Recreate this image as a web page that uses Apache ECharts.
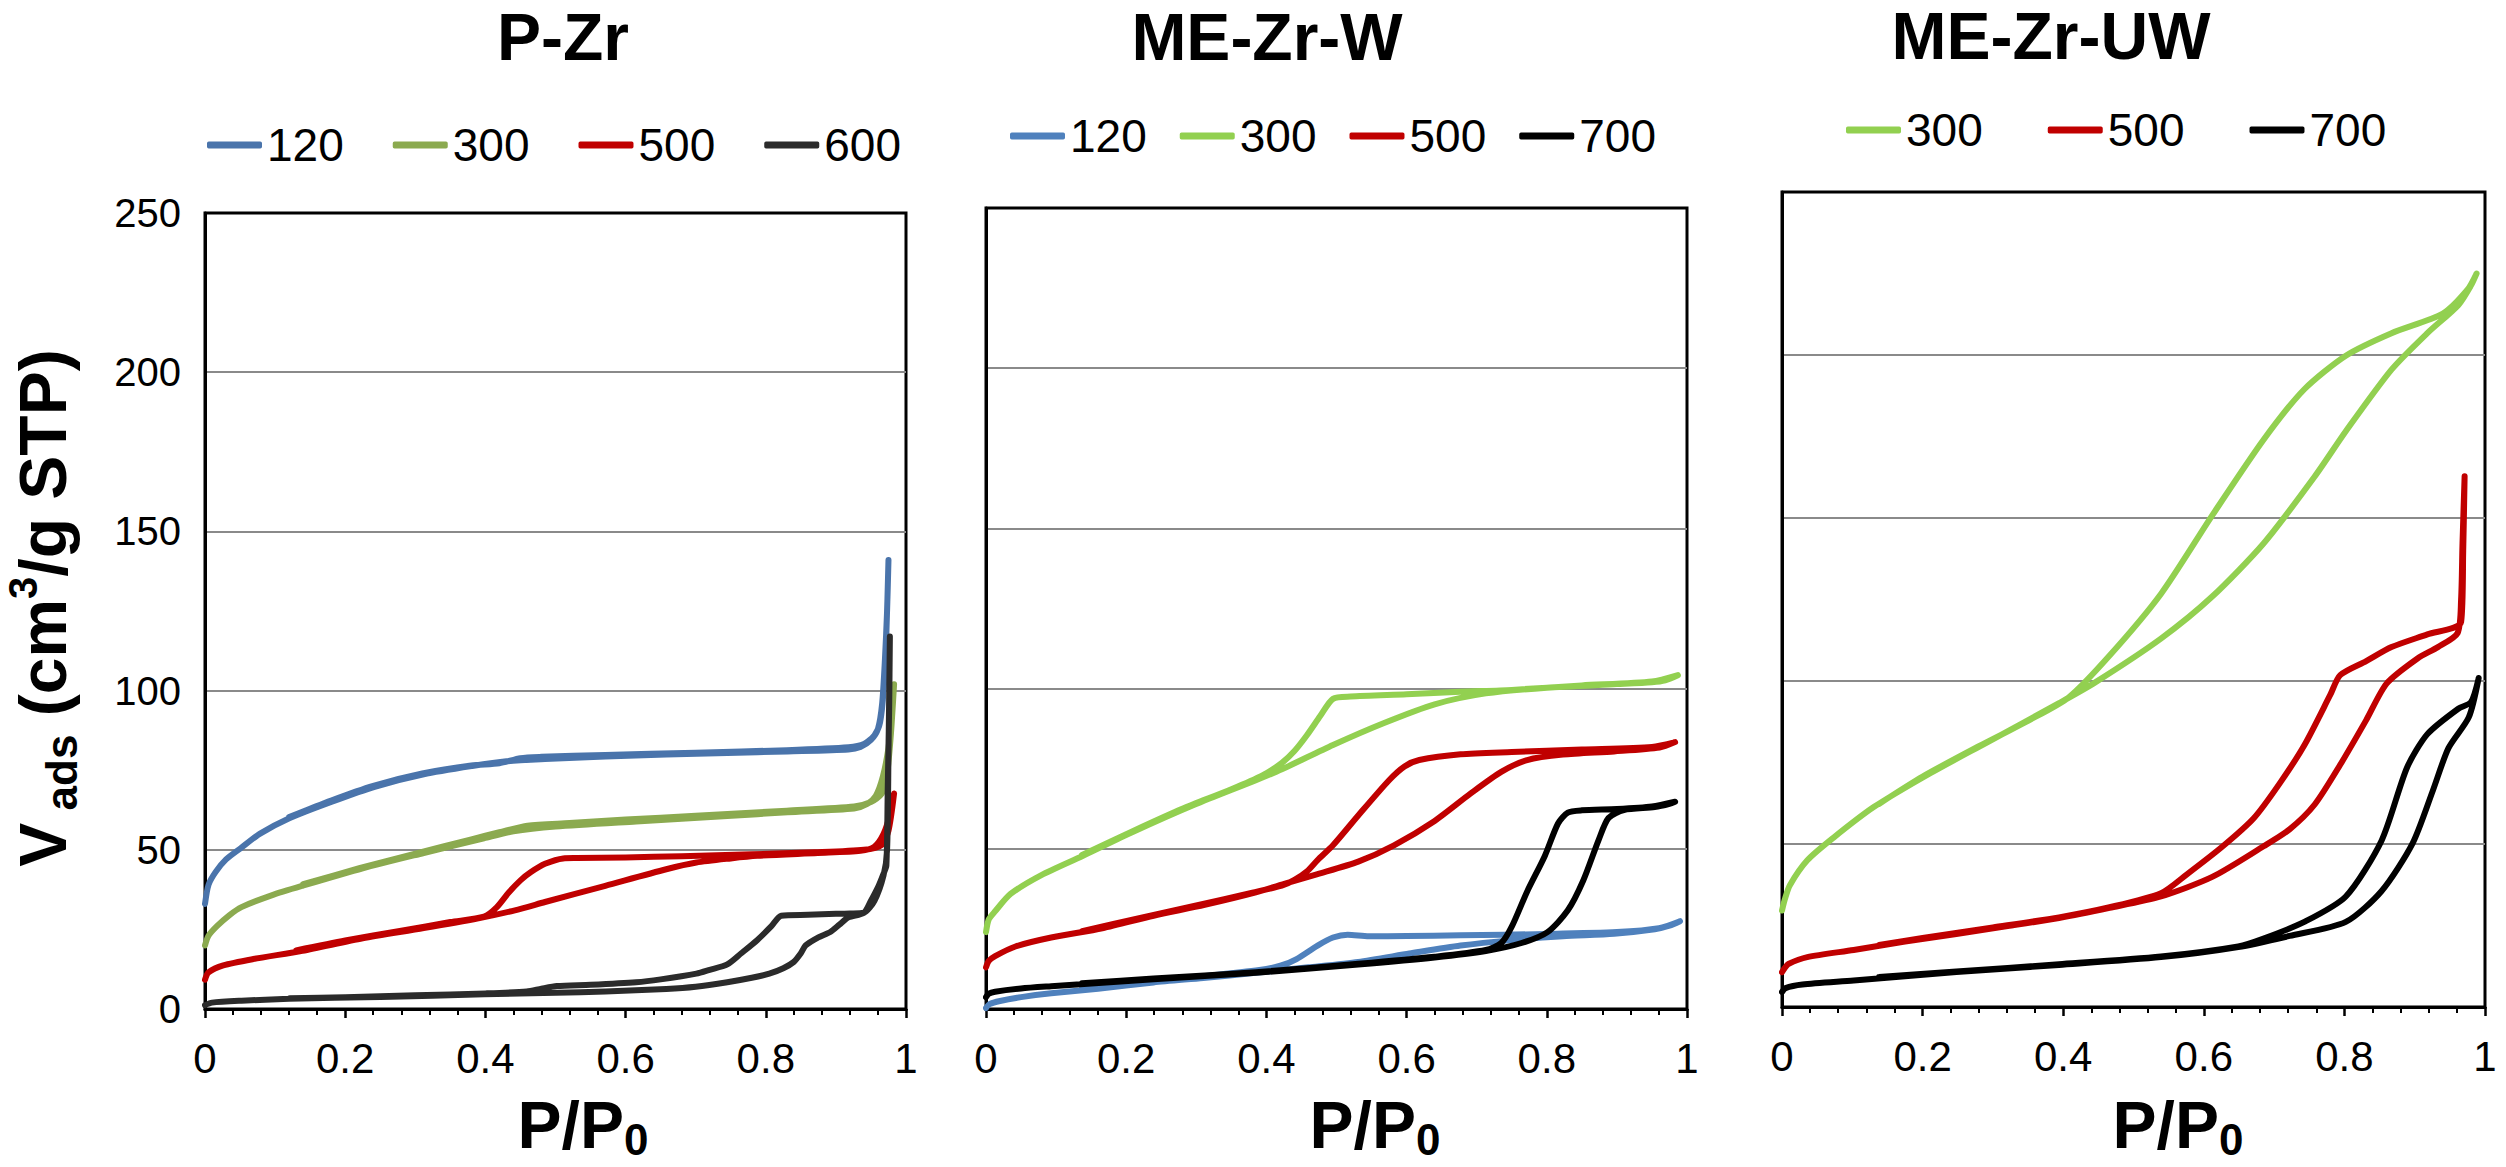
<!DOCTYPE html>
<html><head><meta charset="utf-8">
<script src="https://cdn.jsdelivr.net/npm/echarts@6/dist/echarts.min.js"></script>
<style>html,body{margin:0;padding:0;background:#fff}#c{width:2506px;height:1167px}</style>
</head><body><div id="c"></div>
<script>
// ---------- DATA ----------
const panelTitles = ['P-Zr', 'ME-Zr-W', 'ME-Zr-UW'];
const xTickLabels = ['0', '0.2', '0.4', '0.6', '0.8', '1'];
const yTickLabels = ['0', '50', '100', '150', '200', '250'];
const legendNames = [['120', '300', '500', '600'], ['120', '300', '500', '700'], ['300', '500', '700']];

// P-Zr (adsorption branch followed by desorption branch)
const pzr120 = [[0,33],[0.005,39],[0.015,43],[0.03,47],[0.052,50.7],[0.078,55],[0.121,60],[0.182,65.2],[0.242,69.8],[0.312,73.7],[0.381,76.3],[0.43,77.8],[0.485,78.5],[0.571,79.3],[0.658,79.9],[0.745,80.4],[0.831,80.9],[0.918,81.5],[0.935,82.3],[0.95,84.5],[0.96,88],[0.966,96],[0.97,110],[0.973,125],[0.975,141],
  [0.972,118],[0.968,100],[0.963,90],[0.955,86],[0.94,83.2],[0.918,82.2],[0.83,81.3],[0.7,80.5],[0.571,79.8],[0.48,79.2],[0.45,78.8],[0.42,77.2],[0.38,76.5],[0.31,74],[0.24,70.1],[0.18,65.5],[0.12,60.3]];
const pzr300 = [[0,20],[0.005,23],[0.017,26],[0.035,29.5],[0.052,32],[0.095,35.7],[0.139,38.7],[0.225,44.2],[0.312,49],[0.398,53.6],[0.44,55.8],[0.5,57.3],[0.615,58.9],[0.745,60.6],[0.831,61.8],[0.926,63],[0.944,64.3],[0.957,67],[0.967,73],[0.975,82],[0.98,92],[0.983,102],
  [0.978,85],[0.972,72],[0.965,67.5],[0.95,65],[0.926,63.6],[0.83,62.3],[0.7,60.7],[0.6,59.5],[0.52,58.4],[0.46,57.6],[0.42,55.5],[0.38,53.3],[0.3,48.8],[0.22,44.2],[0.14,39.2]];
const pzr500 = [[0,9.2],[0.005,11.5],[0.026,13.7],[0.069,15.7],[0.139,18.3],[0.225,22.2],[0.312,25.4],[0.39,28.5],[0.442,31],[0.485,33.6],[0.571,38.7],[0.658,43.9],[0.701,46],[0.75,47.3],[0.788,48.1],[0.874,49],[0.935,49.7],[0.955,51],[0.968,55],[0.977,61],[0.983,67.7],
  [0.975,56],[0.965,51.5],[0.94,50],[0.87,49.2],[0.78,48.6],[0.68,48],[0.6,47.6],[0.53,47.4],[0.511,47.3],[0.485,45.6],[0.465,43],[0.45,40.4],[0.433,36.5],[0.416,31.9],[0.398,29],[0.35,27.3],[0.28,24.6],[0.2,21.5],[0.13,18.4]];
const pzr600 = [[0,1.2],[0.01,2],[0.052,2.6],[0.12,3.2],[0.25,3.8],[0.398,4.6],[0.5,5.1],[0.571,5.5],[0.658,6.3],[0.7,7],[0.745,8.4],[0.78,9.8],[0.805,11.1],[0.825,12.8],[0.84,14.8],[0.85,17.5],[0.857,20],[0.875,22.5],[0.892,24.2],[0.905,26.5],[0.918,28.8],[0.94,30.2],[0.95,34],[0.961,38.7],[0.968,42.5],[0.972,45],[0.974,70],[0.976,95],[0.977,117],
  [0.975,80],[0.973,50],[0.968,42],[0.955,34],[0.94,30.3],[0.92,30],[0.9,29.9],[0.86,29.6],[0.822,29.3],[0.808,26],[0.788,21.7],[0.765,17.5],[0.745,14],[0.72,12.3],[0.701,11.1],[0.65,9.3],[0.615,8.4],[0.55,7.6],[0.502,7.2],[0.48,6.4],[0.459,5.5],[0.4,4.9],[0.3,4.3],[0.2,3.7],[0.121,3.4]];

// ME-Zr-W
const w120 = [[0,0.3],[0.005,1.5],[0.02,2.5],[0.05,3.7],[0.093,4.9],[0.16,6.3],[0.239,8.3],[0.31,9.7],[0.385,11.3],[0.46,13],[0.531,14.7],[0.604,17.3],[0.677,19.8],[0.75,21.5],[0.823,22.7],[0.896,23.5],[0.954,24.9],[0.975,26],[0.99,27.4],
  [0.96,25.2],[0.9,24],[0.8,23.4],[0.677,23],[0.6,22.8],[0.546,22.7],[0.516,23.2],[0.495,22.3],[0.473,19.8],[0.443,15.6],[0.42,13.5],[0.39,12.2],[0.3,10],[0.2,7.7],[0.137,6.4]];
const w300 = [[0,24],[0.004,28],[0.013,30.5],[0.035,35.9],[0.079,41.8],[0.137,47.7],[0.21,55.3],[0.298,63.8],[0.385,71.4],[0.422,74.8],[0.495,82.4],[0.567,89.2],[0.64,95.1],[0.713,98.5],[0.8,100.3],[0.9,101.4],[0.95,102],[0.969,102.6],[0.987,104.2],
  [0.95,102.2],[0.85,101],[0.75,99.6],[0.677,99],[0.6,98.2],[0.52,97.5],[0.495,96.8],[0.477,91.5],[0.458,85.5],[0.44,80.5],[0.422,76.8],[0.395,73],[0.35,68.6],[0.28,62.5],[0.21,55.6],[0.137,48.1]];
const w500 = [[0,13],[0.004,15],[0.013,16.5],[0.042,19.5],[0.093,22.3],[0.166,25.2],[0.239,29.1],[0.312,32.5],[0.385,36.4],[0.429,39.3],[0.473,42.1],[0.531,46],[0.582,51.1],[0.64,58.7],[0.691,67.2],[0.735,74],[0.772,77.7],[0.823,79.4],[0.896,80.4],[0.961,81.6],[0.983,83.3],
  [0.95,81.8],[0.85,81],[0.75,80.2],[0.677,79.5],[0.618,77.7],[0.597,75.7],[0.575,71.4],[0.531,60.4],[0.495,51.1],[0.473,46.5],[0.458,43],[0.44,40.3],[0.422,38.5],[0.38,36.3],[0.3,32.3],[0.22,28.4],[0.137,24.3]];
const w700 = [[0,3.7],[0.004,4.8],[0.013,5.4],[0.05,6.4],[0.093,7.1],[0.239,9.3],[0.385,11.3],[0.531,13.9],[0.64,16.1],[0.713,18.1],[0.764,20.6],[0.801,24],[0.83,30.8],[0.852,40.1],[0.874,52.8],[0.888,59.6],[0.91,62.1],[0.954,63],[0.975,64],[0.983,64.7],
  [0.95,63.2],[0.9,62.4],[0.85,62],[0.83,61.3],[0.816,57.9],[0.797,47.7],[0.772,36.7],[0.75,25.7],[0.735,20.6],[0.713,18.4],[0.64,16.3],[0.531,14.1],[0.385,11.5],[0.239,9.5],[0.137,8]];

// ME-Zr-UW
const uw300 = [[0,29.6],[0.004,33],[0.011,37.3],[0.036,45],[0.073,51.9],[0.131,61.4],[0.211,71.7],[0.292,81.2],[0.394,93.2],[0.445,99.5],[0.539,113],[0.612,125.9],[0.685,142.2],[0.758,162.8],[0.802,176.6],[0.867,195.5],[0.918,206.7],[0.962,215.3],[0.98,221.3],[0.988,225],
  [0.975,220],[0.94,212.7],[0.867,206.7],[0.802,199.8],[0.743,189.5],[0.685,174],[0.612,150.8],[0.539,126.7],[0.466,107.8],[0.408,95],[0.35,87.8],[0.28,80],[0.2,70.7],[0.138,62.3]];
const uw500 = [[0,10.7],[0.004,12],[0.009,13.2],[0.036,15.3],[0.102,17.5],[0.175,20.1],[0.248,22.4],[0.321,24.8],[0.394,27.3],[0.466,30.4],[0.539,33.9],[0.612,39.9],[0.685,49.3],[0.722,54.5],[0.758,62.2],[0.794,74.3],[0.831,88],[0.86,99.2],[0.904,106.9],[0.933,110.4],[0.961,114.7],[0.966,125],[0.968,142.2],[0.971,162.8],
  [0.969,140],[0.966,118.1],[0.918,114.3],[0.867,110.4],[0.831,106.1],[0.794,101.8],[0.78,95.8],[0.743,80.3],[0.707,68.3],[0.671,57.9],[0.627,49.3],[0.576,40.7],[0.539,34.9],[0.466,30.6],[0.394,27.5],[0.3,24.4],[0.2,21.2],[0.138,19]];
const uw700 = [[0,4.6],[0.005,5.8],[0.029,6.9],[0.102,8.1],[0.248,10.7],[0.394,12.9],[0.539,15.3],[0.649,18.4],[0.722,21.8],[0.802,26.1],[0.853,35.6],[0.897,50.2],[0.926,66.5],[0.948,79.4],[0.977,88.9],[0.991,100.9],
  [0.98,93.5],[0.962,91.5],[0.918,83.7],[0.889,73.4],[0.853,51.1],[0.802,33.9],[0.743,26.1],[0.685,21],[0.649,18.6],[0.539,15.5],[0.394,13.1],[0.248,10.9],[0.138,9.2]];

const panelSeries = [[pzr120, pzr300, pzr500, pzr600], [w120, w300, w500, w700], [uw300, uw500, uw700]];

// ---------- STYLE / LAYOUT ----------
const FONT = '"Liberation Sans", Arial, sans-serif';
const panelColors = [['#4A74AB', '#8BAA4F', '#C00000', '#2B2B2B'], ['#4F81BD', '#92D050', '#C00000', '#000000'], ['#92D050', '#C00000', '#000000']];
const gridBoxes = [
  {left: 205, top: 213, width: 701, height: 796},
  {left: 986, top: 208, width: 701, height: 801},
  {left: 1782, top: 192, width: 703, height: 815}
];
const legendPos = [{left: 202, top: 117, gap: 49}, {left: 1005, top: 108, gap: 33}, {left: 1841, top: 102, gap: 65}];
const titlePos = [[563, 37], [1267, 37], [2051, 36]];
const xTitlePos = [[583, 1125], [1375, 1125], [2178, 1125]];

const xMin = +xTickLabels[0], xMax = +xTickLabels[xTickLabels.length - 1], xStep = +xTickLabels[1] - +xTickLabels[0];
const yMin = +yTickLabels[0], yMax = +yTickLabels[yTickLabels.length - 1], yStep = +yTickLabels[1] - +yTickLabels[0];

const grid = [], xAxis = [], yAxis = [], legend = [], series = [], graphic = [];
gridBoxes.forEach((g, i) => {
  grid.push(Object.assign({show: true, borderColor: '#000', borderWidth: 3, backgroundColor: 'transparent'}, g));
  xAxis.push({
    gridIndex: i, type: 'value', min: xMin, max: xMax, interval: xStep,
    axisLine: {show: true, onZero: false, lineStyle: {color: '#000', width: 3}},
    axisTick: {show: true, inside: false, length: 9, lineStyle: {color: '#000', width: 2.5}},
    minorTick: {show: true, splitNumber: 5, length: 6, lineStyle: {color: '#000', width: 2}},
    axisLabel: {show: true, margin: 28, fontSize: 42, color: '#000', fontFamily: FONT, showMinLabel: true, showMaxLabel: true,
      formatter: v => { const k = Math.round((v - xMin) / xStep); return xTickLabels[k] !== undefined ? xTickLabels[k] : ''; }},
    splitLine: {show: false}
  });
  yAxis.push({
    gridIndex: i, type: 'value', min: yMin, max: yMax, interval: yStep,
    axisLine: {show: true, lineStyle: {color: '#000', width: 3}},
    axisTick: {show: false},
    axisLabel: {show: i === 0, margin: 24, fontSize: 40, color: '#000', fontFamily: FONT,
      formatter: v => { const k = Math.round((v - yMin) / yStep); return yTickLabels[k] !== undefined ? yTickLabels[k] : ''; }},
    splitLine: {show: true, showMinLine: false, showMaxLine: false, lineStyle: {color: '#8a8a8a', width: 2}}
  });
  const names = legendNames[i].map(n => panelTitles[i] + '|' + n);
  legend.push({
    data: names, left: legendPos[i].left, top: legendPos[i].top, orient: 'horizontal',
    icon: 'roundRect', itemWidth: 55, itemHeight: 7, itemGap: legendPos[i].gap,
    formatter: n => n.split('|')[1], selectedMode: false,
    textStyle: {fontSize: 46, color: '#000', fontFamily: FONT}
  });
  panelSeries[i].forEach((d, j) => {
    series.push({
      type: 'line', name: names[j], xAxisIndex: i, yAxisIndex: i, data: d,
      symbol: 'none', showSymbol: false, smooth: 0.25, animation: false,
      lineStyle: {color: panelColors[i][j], width: 6, cap: 'round', join: 'round'},
      itemStyle: {color: panelColors[i][j]},
      emphasis: {disabled: true}
    });
  });
  graphic.push({type: 'text', x: titlePos[i][0], y: titlePos[i][1],
    style: {text: panelTitles[i], fontSize: 66, fontWeight: 'bold', fontFamily: FONT, fill: '#000', align: 'center', verticalAlign: 'middle'}});
  graphic.push({type: 'text', x: xTitlePos[i][0], y: xTitlePos[i][1],
    style: {text: '{a|P/P}{b|0}', fill: '#000', align: 'center', verticalAlign: 'middle',
      rich: {a: {fontSize: 66, fontWeight: 'bold', fontFamily: FONT, lineHeight: 72},
             b: {fontSize: 44, fontWeight: 'bold', fontFamily: FONT, lineHeight: 36, verticalAlign: 'bottom'}}}});
});
graphic.push({type: 'text', x: 43, y: 608, rotation: Math.PI / 2,
  style: {text: '{v|V}{s| ads}{m| (cm}{p|3}{m|/g STP)}', fill: '#000', align: 'center', verticalAlign: 'middle',
    rich: {v: {fontSize: 66, fontWeight: 'bold', fontFamily: FONT, lineHeight: 80},
           s: {fontSize: 44, fontWeight: 'bold', fontFamily: FONT, lineHeight: 44, verticalAlign: 'bottom'},
           m: {fontSize: 66, fontWeight: 'bold', fontFamily: FONT, lineHeight: 80},
           p: {fontSize: 40, fontWeight: 'bold', fontFamily: FONT, lineHeight: 40, verticalAlign: 'top'}}}});

const chart = echarts.init(document.getElementById('c'), null, {renderer: 'svg', width: 2506, height: 1167});
chart.setOption({backgroundColor: '#fff', animation: false, grid, xAxis, yAxis, legend, series, graphic});
</script>
</body></html>
